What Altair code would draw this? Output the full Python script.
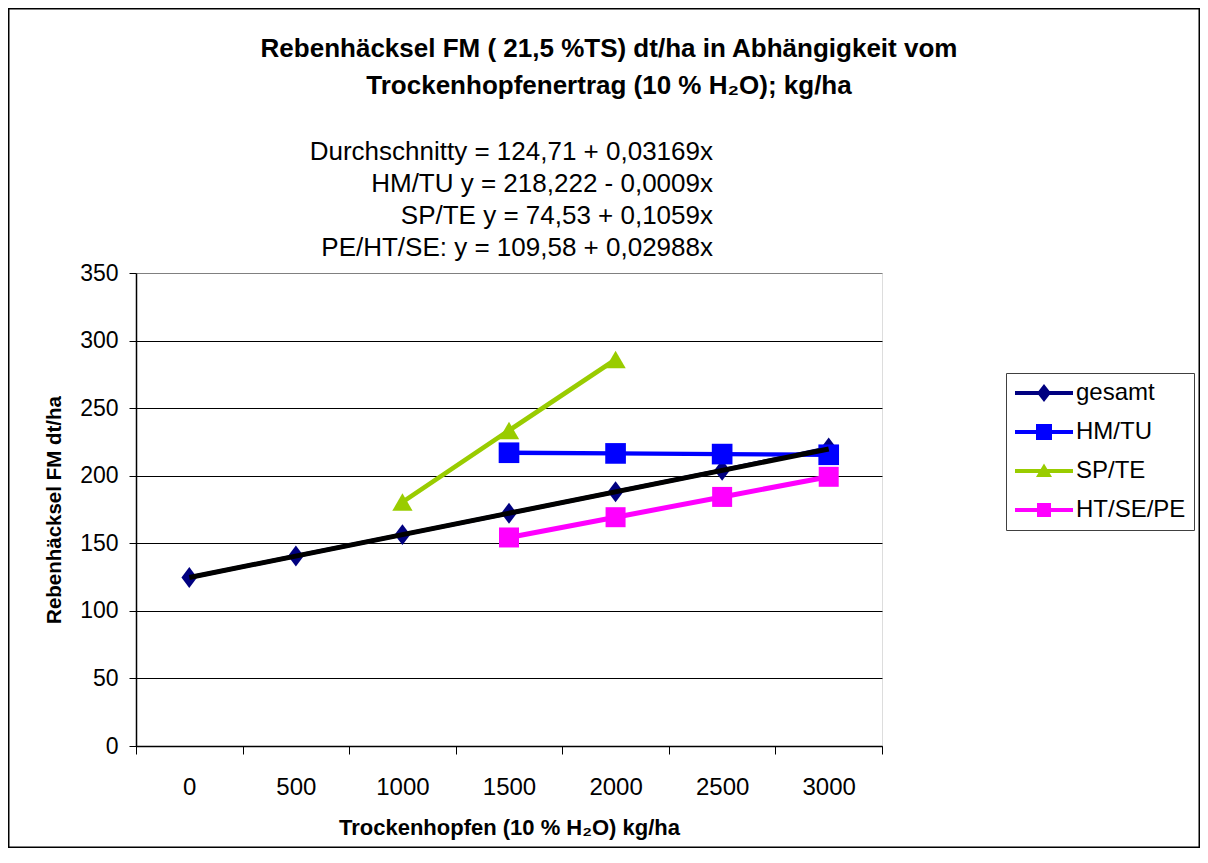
import altair as alt
import pandas as pd

# ---------------- data ----------------
series_names = ["gesamt", "HM/TU", "SP/TE", "HT/SE/PE"]
series_colors = ["#000080", "#0000FF", "#99CC00", "#FF00FF"]

gesamt_x = [0, 500, 1000, 1500, 2000, 2500, 3000]
gesamt_y = [124.7, 140.6, 156.4, 172.2, 188.1, 204.0, 220.5]
hmtu_x = [1500, 2000, 2500, 3000]
hmtu_y = [217.0, 216.5, 216.0, 215.5]
spte_x = [1000, 1500, 2000]
spte_y = [180.5, 233.5, 286.0]
htsepe_x = [1500, 2000, 2500, 3000]
htsepe_y = [154.3, 169.3, 184.3, 199.2]

trend_x = [0, 3000]
trend_y = [124.7, 219.8]

x_categories = [0, 500, 1000, 1500, 2000, 2500, 3000]
y_ticks = [0, 50, 100, 150, 200, 250, 300, 350]

title_lines = ["Rebenhäcksel FM ( 21,5 %TS) dt/ha in Abhängigkeit vom",
               "Trockenhopfenertrag (10 % H\u2082O); kg/ha"]
equations = ["Durchschnitty = 124,71 + 0,03169x",
             "HM/TU y =  218,222 - 0,0009x",
             "SP/TE  y =    74,53 + 0,1059x",
             "PE/HT/SE: y = 109,58 + 0,02988x"]
x_title = "Trockenhopfen (10 % H\u2082O) kg/ha"
y_title = "Rebenhäcksel FM dt/ha"

# ---------------- tables ----------------
rows = []
for name, xs, ys in [("gesamt", gesamt_x, gesamt_y), ("HM/TU", hmtu_x, hmtu_y),
                     ("SP/TE", spte_x, spte_y), ("HT/SE/PE", htsepe_x, htsepe_y)]:
    for i, (xv, yv) in enumerate(zip(xs, ys)):
        rows.append({"Reihe": name, "x": xv, "y": yv, "ord": i})
df = pd.DataFrame(rows)
df_trend = pd.DataFrame({"x": trend_x, "y": trend_y})
df_eq = pd.DataFrame({"t": ["\n".join(equations)]})
df_title = pd.DataFrame({"t": ["\n".join(title_lines)]})
df_legend = pd.DataFrame({"Reihe": series_names})
df_one = pd.DataFrame({"a": [0]})

half = (x_categories[1] - x_categories[0]) / 2
x_bounds = [c - half for c in x_categories] + [x_categories[-1] + half]

FONT = "Liberation Sans"

W, H = 746, 473
PAD_L, PAD_T = 128, 265
TOTAL_W, TOTAL_H = 1192, 840

x_scale = alt.Scale(domain=[x_bounds[0], x_bounds[-1]], nice=False, zero=False)
y_scale = alt.Scale(domain=[0, 350], nice=False)

y_axis = alt.Axis(values=y_ticks, title=y_title, grid=True,
                  gridColor={"condition": {"test": "datum.value == 350", "value": "#808080"}, "value": "#000000"},
                  gridWidth=1, domainColor="#000000", domainWidth=1.5,
                  tickColor="#000000", tickSize=7, labelFontSize=23, labelFont=FONT,
                  labelColor="#000000", labelPadding=11, titleFontSize=20.5, titleFont=FONT,
                  titleFontWeight="bold", titleColor="#000000", titlePadding=15)
y_enc = alt.Y("y:Q", scale=y_scale, axis=y_axis)

color_scale = alt.Scale(domain=series_names, range=series_colors)

diamond = "M0,-1L0.75,0L0,1L-0.75,0Z"
marker_shapes = [diamond, "square", "triangle-up", "square"]
marker_sizes = [440, 400, 340, 196]
line_widths = [4, 5, 4.5, 5]

legend_paths = [
    "M-2.9,-0.2H2.9V0.2H-2.9Z M0,-0.9L0.7,0L0,0.9L-0.7,0Z",
    "M-2.9,-0.2H2.9V0.2H-2.9Z M-0.8,-0.8H0.8V0.8H-0.8Z",
    "M-2.9,-0.2H2.9V0.2H-2.9Z M0,-0.75L0.8,0.6H-0.8Z",
    "M-2.9,-0.2H2.9V0.2H-2.9Z M-0.7,-0.7H0.7V0.7H-0.7Z",
]

# ---------------- layers ----------------
lines = alt.Chart(df).mark_line(clip=False).encode(
    x=alt.X("x:Q", scale=x_scale,
            axis=alt.Axis(values=x_bounds, labels=False, ticks=True, tickSize=8,
                          tickColor="#000000", domain=True, domainColor="#000000",
                          domainWidth=1.5, grid=False, title=None, orient="bottom")),
    y=y_enc,
    color=alt.Color("Reihe:N", scale=color_scale, legend=None),
    strokeWidth=alt.StrokeWidth("Reihe:N", scale=alt.Scale(domain=series_names, range=line_widths), legend=None),
    detail="Reihe:N",
    order="ord:Q",
)

points = alt.Chart(df).mark_point(filled=True, opacity=1, strokeWidth=0).encode(
    x=alt.X("x:Q", scale=x_scale, axis=None),
    y=y_enc,
    color=alt.Color("Reihe:N", scale=color_scale, legend=None),
    shape=alt.Shape("Reihe:N", scale=alt.Scale(domain=series_names, range=marker_shapes), legend=None),
    size=alt.Size("Reihe:N", scale=alt.Scale(domain=series_names, range=marker_sizes), legend=None),
)

trend = alt.Chart(df_trend).mark_line(color="#000000", strokeWidth=5).encode(
    x=alt.X("x:Q", scale=x_scale,
            axis=alt.Axis(values=x_categories, format="d", ticks=False, tickSize=0, domain=False, grid=False,
                          labelFontSize=24, labelFont=FONT, labelColor="#000000",
                          labelPadding=29, title=x_title, titleFontSize=22, titleFont=FONT,
                          titleFontWeight="bold", titleColor="#000000", titlePadding=18,
                          orient="bottom", labelFlush=False)),
    y=y_enc,
)

leg = alt.Legend(title=None, orient="none", legendX=870, legendY=100,
                 labelFontSize=24, labelFont=FONT, labelColor="#000000",
                 symbolSize=400, symbolStrokeWidth=0, symbolOffset=18, labelOffset=20,
                 rowPadding=15, padding=8, strokeColor="#404040", fillColor="#FFFFFF")

legend_layer = alt.Chart(df_legend).mark_point(filled=True, opacity=1).encode(
    color=alt.Color("Reihe:N", scale=alt.Scale(domain=series_names, range=series_colors), legend=leg),
    shape=alt.Shape("Reihe:N", scale=alt.Scale(domain=series_names, range=legend_paths), legend=leg),
).transform_filter("false")

eq_text = alt.Chart(df_eq).mark_text(align="right", baseline="top", lineBreak="\n",
                                     fontSize=26, lineHeight=32, font=FONT,
                                     color="#000000").encode(
    text="t:N", x=alt.value(577), y=alt.value(-134))

title_text = alt.Chart(df_title).mark_text(align="center", baseline="top", lineBreak="\n",
                                           fontSize=26, lineHeight=37, font=FONT, fontWeight="bold",
                                           color="#000000").encode(
    text="t:N", x=alt.value(473), y=alt.value(-237))

border = alt.Chart(df_one).mark_rect(fill=None, stroke="#000000", strokeWidth=1.5).encode(
    x=alt.value(-PAD_L + 0.75), x2=alt.value(TOTAL_W - PAD_L - 0.75),
    y=alt.value(-PAD_T + 0.75), y2=alt.value(TOTAL_H - PAD_T - 0.75))

chart = alt.layer(border, lines, points, trend, eq_text, title_text, legend_layer).resolve_scale(
    color="independent", shape="independent", size="independent", strokeWidth="independent"
).resolve_axis(x="independent").resolve_legend(color="independent", shape="independent").properties(
    width=W, height=H,
    autosize=alt.AutoSizeParams(type="none"),
    padding={"left": PAD_L, "top": PAD_T, "right": TOTAL_W - PAD_L - W, "bottom": TOTAL_H - PAD_T - H},
).configure_view(stroke="#808080", strokeWidth=3).configure(font=FONT, background="#FFFFFF")

chart.save("out.html", embed_options={"renderer": "svg", "actions": False})
